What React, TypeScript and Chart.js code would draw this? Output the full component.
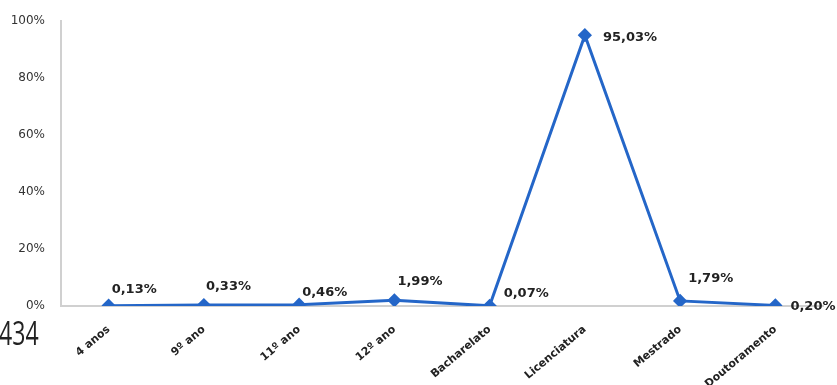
import React, { useEffect, useRef } from "react";
import { Chart, registerables } from "chart.js";

Chart.register(...registerables);

const categories = ["4 anos", "9º ano", "11º ano", "12º ano", "Bacharelato", "Licenciatura", "Mestrado", "Doutoramento"];
const values = [0.13, 0.33, 0.46, 1.99, 0.07, 95.03, 1.79, 0.2];
const valueLabels = ["0,13%", "0,33%", "0,46%", "1,99%", "0,07%", "95,03%", "1,79%", "0,20%"];
const yTicks = [0, 20, 40, 60, 80, 100];

// label placement relative to each point (style config)
const labelDx = [3, 2, 3, 3, 14, 18, 8, 15];
const labelDy = [-16, -18, -12, -19, -12, 2, -22, 1];

const LINE = "#2466c8";

const labelPlugin = {
  id: "valueLabels",
  afterDatasetsDraw(chart: any) {
    const ctx = chart.ctx;
    const meta = chart.getDatasetMeta(0);
    ctx.save();
    ctx.font = "bold 13px 'DejaVu Sans'";
    ctx.fillStyle = "#222";
    ctx.textAlign = "left";
    ctx.textBaseline = "middle";
    meta.data.forEach((pt: any, i: number) => {
      ctx.fillText(valueLabels[i], pt.x + labelDx[i], pt.y + labelDy[i]);
    });
    ctx.restore();
  },
};

export default function App() {
  const ref = useRef<HTMLCanvasElement>(null);
  useEffect(() => {
    document.body.style.margin = "0";
    const chart = new Chart(ref.current!, {
      type: "line",
      data: {
        labels: categories,
        datasets: [
          {
            data: values,
            borderColor: LINE,
            backgroundColor: LINE,
            borderWidth: 3,
            pointStyle: "rectRot",
            pointRadius: 5,
            pointBackgroundColor: LINE,
            pointBorderColor: LINE,
            tension: 0,
          },
        ],
      },
      options: {
        responsive: false,
        animation: false,
        layout: { padding: { top: 21, right: 14, left: 0, bottom: 0 } },
        plugins: { legend: { display: false }, tooltip: { enabled: false } },
        scales: {
          x: {
            offset: true,
            grid: { display: false },
            border: { display: true, color: "#d0d0d0", width: 2 },
            ticks: {
              maxRotation: 40,
              minRotation: 40,
              autoSkip: false,
              color: "#222",
              font: { family: "'DejaVu Sans'", size: 11, weight: "bold" },
              padding: 9,
            },
            afterFit: (s: any) => {
              s.height = 79;
            },
          },
          y: {
            min: 0,
            max: 100,
            grid: { display: false },
            border: { display: true, color: "#d0d0d0", width: 2 },
            afterBuildTicks: (s: any) => {
              s.ticks = yTicks.map((v) => ({ value: v }));
            },
            ticks: {
              color: "#333",
              font: { family: "'DejaVu Sans'", size: 12 },
              padding: 8,
              callback: (v: any) => v + "%",
            },
            afterFit: (s: any) => {
              s.width = 61;
            },
          },
        },
      },
      plugins: [labelPlugin],
    });
    return () => chart.destroy();
  }, []);
  return (
    <div style={{ position: "relative", width: 837, height: 385, background: "#fff" }}>
      <canvas ref={ref} width={837} height={385} style={{ display: "block" }} />
      <div
        style={{
          position: "absolute",
          left: -1,
          top: 313,
          fontFamily: "'Open Sans'",
          fontSize: 33,
          color: "#222",
          lineHeight: "40px",
          transform: "scaleX(0.7)",
          transformOrigin: "left top",
        }}
      >
        434
      </div>
    </div>
  );
}
